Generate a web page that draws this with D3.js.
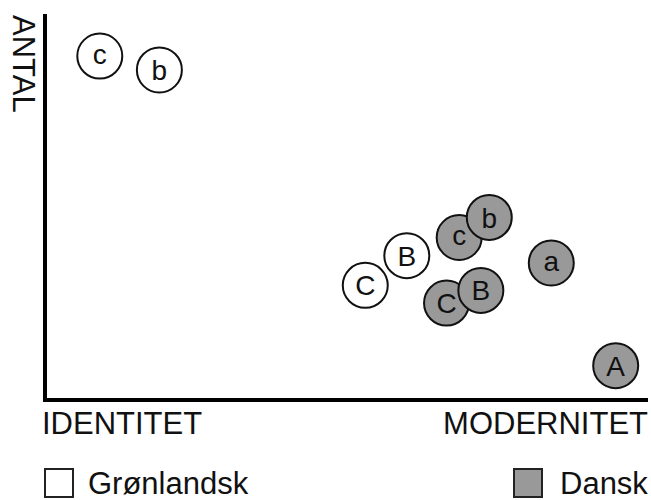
<!DOCTYPE html>
<html>
<head>
<meta charset="UTF-8">
<title>Identitet / Modernitet</title>
<script src="https://d3js.org/d3.v7.min.js"></script>
<style>
  * { margin: 0; padding: 0; }
  body { background: #fff; font-family: 'Liberation Sans', Arial, sans-serif; }
  svg text { fill: #111; }
</style>
</head>
<body>
<svg id="chart" width="651" height="500"></svg>
<script>
// data (0-100 on each axis)
const gronLabels = ['c', 'b', 'C', 'B'];
const gronX = [9.1, 19.0, 53.2, 60.1];
const gronY = [89.1, 85.5, 29.7, 37.4];

const danskLabels = ['c', 'b', 'C', 'B', 'a', 'A'];
const danskX = [68.8, 73.8, 66.7, 72.4, 84.1, 94.8];
const danskY = [42.1, 47.3, 25.1, 28.4, 35.5, 8.9];

const legendLabels = ['Grønlandsk', 'Dansk'];
const colors = { 'Grønlandsk': '#ffffff', 'Dansk': '#999999' };

const svg = d3.select('#chart');
const x = d3.scaleLinear().domain([0, 100]).range([45, 647]);
const y = d3.scaleLinear().domain([0, 100]).range([400, 14]);

// akser
svg.append('line')
  .attr('x1', x(0)).attr('x2', x(0))
  .attr('y1', y(100)).attr('y2', y(0) + 2)
  .attr('stroke', '#000').attr('stroke-width', 4);
svg.append('line')
  .attr('x1', x(0) - 2).attr('x2', x(100) + 1)
  .attr('y1', y(0)).attr('y2', y(0))
  .attr('stroke', '#000').attr('stroke-width', 4);

svg.append('text')
  .attr('transform', 'translate(13,15) rotate(90)')
  .style('font-size', '31px')
  .text('ANTAL');
svg.append('text')
  .attr('x', 42).attr('y', 434)
  .style('font-size', '31px')
  .text('IDENTITET');
svg.append('text')
  .attr('x', 648).attr('y', 434)
  .attr('text-anchor', 'end')
  .style('font-size', '31px')
  .text('MODERNITET');

// punkter
const points = [];
gronLabels.forEach((l, i) => points.push({ label: l, x: gronX[i], y: gronY[i], group: 'Grønlandsk' }));
danskLabels.forEach((l, i) => points.push({ label: l, x: danskX[i], y: danskY[i], group: 'Dansk' }));

const g = svg.selectAll('g.pt')
  .data(points)
  .enter().append('g')
  .attr('class', 'pt')
  .attr('transform', d => `translate(${x(d.x)},${y(d.y)})`);

g.append('circle')
  .attr('r', 22.5)
  .attr('fill', d => colors[d.group])
  .attr('stroke', '#111')
  .attr('stroke-width', 2);

g.append('text')
  .attr('text-anchor', 'middle')
  .attr('dy', d => /[ac]/.test(d.label) ? '0.27em' : '0.36em')
  .style('font-size', '28px')
  .text(d => d.label);

// legende
const legX = [45, 514];
const leg = svg.selectAll('g.leg')
  .data(legendLabels)
  .enter().append('g')
  .attr('class', 'leg')
  .attr('transform', (d, i) => `translate(${legX[i]},469)`);

leg.append('rect')
  .attr('width', 28).attr('height', 28)
  .attr('fill', d => colors[d])
  .attr('stroke', '#222')
  .attr('stroke-width', 2);

leg.append('text')
  .attr('x', (d, i) => i === 0 ? 43 : 46)
  .attr('y', 25)
  .style('font-size', '31px')
  .text(d => d);
</script>
</body>
</html>
